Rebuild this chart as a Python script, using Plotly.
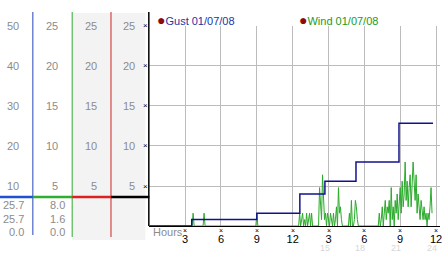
import numpy as np
import plotly.graph_objects as go

W, H = 442, 253

# ---------------- data ----------------
hour_ticks = [3, 6, 9, 12, 15, 18, 21, 24]
hour_labels = ['3', '6', '9', '12', '3', '6', '9', '12']
hour24_ticks = [15, 18, 21, 24]
hour24_labels = ['15', '18', '21', '24']

gust_hours = [0, 3.55, 9.0, 12.6, 14.7, 17.3, 20.9, 23.75]
gust_values = [0, 1.6, 3.2, 8.0, 11.2, 16.0, 25.7, 25.7]

wind_mph = [
    0, 0, 0, 0, 0, 0, 0, 0, 0, 0, 0, 0,                      # 0h
    0, 0, 0, 0, 0, 0, 0, 0, 0, 0, 0, 0,                      # 1h
    0, 0, 0, 0, 0, 0, 0, 0, 0, 0, 0, 0,                      # 2h
    0, 0, 0, 0, 0, 0, 0, 0, 1.6, 0, 0, 0,                    # 3h
    0, 0, 0, 0, 0, 0, 0, 1.6, 0, 0, 0, 0,                    # 4h
    0, 0, 0, 0, 0, 0, 0, 0, 0, 0, 0, 0,                      # 5h
    0, 0, 0, 0, 0, 0, 0, 0, 0, 0, 0, 0,                      # 6h
    0, 0, 0, 0, 0, 0, 0, 0, 0, 0, 0, 0,                      # 7h
    0, 0, 0, 0, 0, 0, 0, 0, 0, 0, 0, 0,                      # 8h
    1.6, 0, 0, 0, 0, 0, 0, 0, 0, 0, 0, 0,                    # 9h
    0, 0, 0, 0, 0, 0, 0, 0, 0, 0, 0, 0,                      # 10h
    0, 0, 0, 0, 0, 0, 0, 0, 0, 0, 0, 0,                      # 11h
    0, 0, 0, 0, 0, 0, 0, 1.6, 0, 0.8, 1.6, 0,                # 12h
    0.8, 0, 1.6, 0, 0.8, 1.6, 0, 1.6, 0, 0, 0, 0,            # 13h
    0, 0, 0, 4.8, 2.4, 0.8, 6.4, 3.2, 0.8, 1.6, 0, 1.6,      # 14h
    0.8, 0, 1.6, 0.8, 0, 1.6, 0, 0.8, 2.4, 0, 4.8, 1.6,      # 15h
    2.4, 0.8, 0, 0, 0, 0, 0, 0, 0, 1.6, 0, 3.2,              # 16h
    0, 0, 0.8, 3.2, 2.4, 0.8, 0, 0, 0, 0, 0, 0,              # 17h
    0, 0, 0, 0, 0, 0, 0, 0, 0, 0, 0, 0,                      # 18h
    0, 0, 0, 1.6, 0, 0.8, 2.4, 0, 1.6, 3.2, 0.8, 2.4,        # 19h
    1.6, 3.2, 0, 4.8, 0.8, 2.4, 0, 3.2, 1.6, 4.0, 0.8, 3.2,  # 20h
    4.8, 1.6, 5.6, 2.4, 4.0, 8.0, 3.2, 5.6, 2.4, 4.8, 6.4, 2.4,  # 21h
    4.8, 8.0, 5.6, 3.2, 6.4, 1.6, 4.0, 2.4, 0.8, 3.2, 1.6, 0.8,  # 22h
    2.4, 0.8, 1.6, 0, 1.6, 0.8, 2.4, 4.8, 1.6,               # 23h
]
wind_hours = np.arange(len(wind_mph)) / 12.0

scale25 = [5, 10, 15, 20, 25]
scale50 = [10, 20, 30, 40, 50]
gust_stats = ['25.7', '25.7', '0.0']
wind_stats = ['8.0', '1.6', '0.0']
legend_names = ['Gust 01/07/08', 'Wind 01/07/08']

# ---------------- styling helpers ----------------
def PX(x):
    return x / W

def PY(y):
    return 1 - y / H

FONT = 'Liberation Sans, Arial, sans-serif'
GRAY = '#8c8c8c'
GUST_C = '#12128e'
WIND_C = '#2aaa2a'
PX_PER_HOUR = 12.0

fig = go.Figure()

fig.add_trace(go.Scatter(x=wind_hours, y=wind_mph, mode='lines',
                         line=dict(color=WIND_C, width=1), yaxis='y',
                         hoverinfo='skip', showlegend=False))
fig.add_trace(go.Scatter(x=gust_hours, y=gust_values, mode='lines',
                         line=dict(color=GUST_C, width=1.5, shape='hv'),
                         yaxis='y2', hoverinfo='skip', showlegend=False))

shapes = []
# gray columns
shapes.append(dict(type='rect', xref='paper', yref='paper', x0=PX(73), x1=PX(146),
                   y0=PY(240), y1=PY(13), fillcolor='#f3f3f3', line=dict(width=0),
                   layer='below'))
# vertical separators
for xp, ybot, col, w in [(33, 235, '#2446b8', 1), (72.5, 237, '#2fa62f', 1),
                         (111.5, 237, '#cc2424', 1), (149.5, 226, 'black', 1.5)]:
    shapes.append(dict(type='line', xref='paper', yref='paper', x0=PX(xp), x1=PX(xp),
                       y0=PY(12), y1=PY(ybot), line=dict(color=col, width=w)))
# thick horizontal line
for x0, x1, col in [(0, 33, '#1e50d2'), (33, 72.5, '#2fae2f'),
                    (72.5, 111.5, '#dd2020'), (111.5, 150, 'black')]:
    shapes.append(dict(type='line', xref='paper', yref='paper', x0=PX(x0), x1=PX(x1),
                       y0=PY(197), y1=PY(197), line=dict(color=col, width=2.5)))

ann = []
# small tick glyphs
for v in scale25:
    ann.append(dict(x=PX(146.5), xref='paper', y=v, yref='y', text='×',
                    xanchor='center', yanchor='middle', showarrow=False,
                    font=dict(family=FONT, size=8, color='black')))
for h in hour_ticks:
    ann.append(dict(x=h, xref='x', y=PY(230), yref='paper', text='×',
                    xanchor='center', yanchor='middle', showarrow=False,
                    font=dict(family=FONT, size=7, color='black')))
# left scales
for right, vals, yref in [(21, scale50, 'y2'), (60, scale25, 'y'),
                          (99, scale25, 'y'), (138, scale25, 'y')]:
    for v in vals:
        ann.append(dict(x=PX(right), xref='paper', y=v, yref=yref, text=str(v),
                        xanchor='right', yanchor='middle', showarrow=False,
                        font=dict(family=FONT, size=11, color=GRAY)))
# stats under the line
for right, stats in [(26, gust_stats), (67, wind_stats)]:
    for s, yp in zip(stats, [205, 218.5, 232]):
        ann.append(dict(x=PX(right), xref='paper', y=PY(yp), yref='paper', text=s,
                        xanchor='right', yanchor='middle', showarrow=False,
                        font=dict(family=FONT, size=11, color=GRAY)))
# legend
for name, xp, col in [(legend_names[0], 156, '#2233a8'), (legend_names[1], 298, '#229a22')]:
    ann.append(dict(x=PX(xp), xref='paper', y=PY(20), yref='paper',
                    text='<span style="color:#8b0a0a;font-size:14px">●</span>' + name,
                    xanchor='left', yanchor='middle', showarrow=False,
                    font=dict(family=FONT, size=11, color=col)))
# Hours label
ann.append(dict(x=PX(152), xref='paper', y=PY(232), yref='paper', text='Hours',
                xanchor='left', yanchor='middle', showarrow=False,
                font=dict(family=FONT, size=11, color=GRAY)))
# faint 24h labels
for h, t in zip(hour24_ticks, hour24_labels):
    ann.append(dict(x=h, xref='x', y=PY(247.5), yref='paper', text=t,
                    xanchor='center', yanchor='middle', showarrow=False, xshift=-4,
                    font=dict(family=FONT, size=9, color='#d6d6d6')))

fig.update_layout(
    width=W, height=H,
    margin=dict(l=0, r=0, t=0, b=0),
    paper_bgcolor='white', plot_bgcolor='white',
    showlegend=False,
    xaxis=dict(domain=[PX(150), 1], range=[0, (W - 150) / PX_PER_HOUR],
               tickvals=hour_ticks, ticktext=hour_labels,
               showgrid=True, gridcolor='#bcbcbc', gridwidth=1,
               zeroline=False, showline=True, linecolor='black', linewidth=1,
               ticks='outside', ticklen=3, tickcolor='rgba(0,0,0,0)',
               ticklabeloverflow='allow',
               tickfont=dict(family=FONT, size=11, color='black')),
    yaxis=dict(domain=[27 / H, 227.5 / H], range=[0, 25.06],
               tickvals=scale25, showticklabels=False,
               showgrid=True, gridcolor='#bcbcbc', gridwidth=1,
               zeroline=False, showline=False),
    yaxis2=dict(overlaying='y', range=[0, 50.12], visible=False),
    shapes=shapes, annotations=ann,
)

fig.write_html('out.html')
